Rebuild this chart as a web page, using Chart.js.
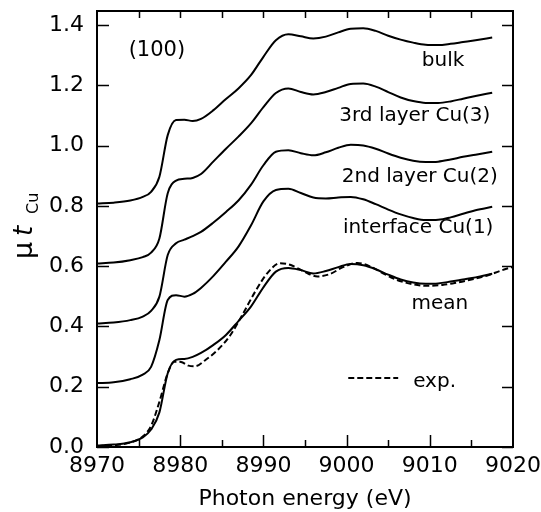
<!DOCTYPE html>
<html>
<head>
<meta charset="utf-8">
<title>Cu K-edge XANES (100)</title>
<script src="https://cdn.jsdelivr.net/npm/chart.js@4.4.1/dist/chart.umd.min.js"></script>
<style>
  html, body { margin: 0; padding: 0; background: #fff; }
  #wrap { width: 541px; height: 512px; }
</style>
</head>
<body>
<div id="wrap"><canvas id="xanesChart" width="541" height="512"></canvas></div>
<script>
// Cu K-edge spectra, (100) surface: calc. layers, mean and experiment

const energy = [8970, 8972, 8974, 8975.5, 8976.5, 8977.5, 8978.5, 8979.5, 8980.5, 8981.5,
  8982.5, 8984, 8985.5, 8987, 8988.5, 8990, 8991.5, 8993, 8994.5, 8996,
  8997.5, 8999, 9000.5, 9002, 9003.5, 9005, 9006.5, 9008, 9009.5, 9011,
  9012.5, 9014, 9015.5, 9017.5];

const bulk = [0.808, 0.811, 0.818, 0.830, 0.847, 0.897, 1.035, 1.085, 1.086, 1.082,
  1.089, 1.118, 1.155, 1.190, 1.234, 1.295, 1.350, 1.370, 1.363, 1.356,
  1.362, 1.376, 1.388, 1.390, 1.381, 1.365, 1.352, 1.342, 1.335, 1.334,
  1.338, 1.344, 1.350, 1.359];

const layer3 = [0.609, 0.612, 0.620, 0.630, 0.645, 0.692, 0.842, 0.884, 0.890, 0.893,
  0.906, 0.948, 0.990, 1.030, 1.074, 1.128, 1.175, 1.190, 1.178, 1.170,
  1.178, 1.192, 1.205, 1.206, 1.196, 1.178, 1.160, 1.148, 1.142, 1.142,
  1.147, 1.156, 1.165, 1.176];

const layer2 = [0.410, 0.413, 0.421, 0.433, 0.452, 0.499, 0.637, 0.676, 0.688, 0.700,
  0.714, 0.745, 0.780, 0.818, 0.870, 0.935, 0.980, 0.985, 0.975, 0.968,
  0.978, 0.993, 1.003, 1.001, 0.990, 0.974, 0.960, 0.950, 0.946, 0.947,
  0.954, 0.963, 0.970, 0.980];

const layer1 = [0.212, 0.215, 0.225, 0.240, 0.266, 0.355, 0.488, 0.504, 0.499, 0.508,
  0.528, 0.568, 0.615, 0.665, 0.735, 0.815, 0.853, 0.857, 0.843, 0.828,
  0.825, 0.828, 0.830, 0.822, 0.806, 0.788, 0.772, 0.760, 0.753, 0.754,
  0.762, 0.774, 0.786, 0.797];

const mean = [0.005, 0.008, 0.016, 0.032, 0.058, 0.115, 0.245, 0.289, 0.292, 0.299,
  0.312, 0.339, 0.372, 0.418, 0.466, 0.530, 0.582, 0.594, 0.587, 0.576,
  0.584, 0.597, 0.607, 0.603, 0.590, 0.572, 0.556, 0.546, 0.542, 0.543,
  0.549, 0.556, 0.563, 0.575];

const expEnergy = [8970, 8972, 8974, 8975.5, 8976.5, 8977.5, 8978.5, 8979.3, 8980.1, 8981,
  8981.8, 8983, 8984.5, 8986, 8987.5, 8989, 8990.5, 8992, 8993.3, 8994.9,
  8996.5, 8998, 8999.5, 9001.3, 9003, 9004.5, 9006, 9008, 9009.7, 9011.5,
  9013, 9015, 9017, 9018.5, 9020];

const expMu = [0.003, 0.006, 0.015, 0.035, 0.070, 0.150, 0.245, 0.283, 0.282, 0.270,
  0.268, 0.288, 0.322, 0.370, 0.440, 0.515, 0.578, 0.610, 0.604, 0.582,
  0.566, 0.574, 0.596, 0.611, 0.597, 0.575, 0.555, 0.540, 0.535, 0.538,
  0.544, 0.556, 0.570, 0.585, 0.598];

const yTicks = [0, 0.2, 0.4, 0.6, 0.8, 1.0, 1.2, 1.4];

const curveLabels = [
  { text: '(100)', x: 8977.2, y: 1.298, align: 'center', size: 21 },
  { text: 'bulk', x: 9011.6, y: 1.264, align: 'center', size: 20 },
  { text: '3rd layer Cu(3)', x: 9008.2, y: 1.083, align: 'center', size: 20 },
  { text: '2nd layer Cu(2)', x: 9008.8, y: 0.880, align: 'center', size: 20 },
  { text: 'interface Cu(1)', x: 9008.6, y: 0.709, align: 'center', size: 20 },
  { text: 'mean', x: 9011.2, y: 0.457, align: 'center', size: 20 },
  { text: 'exp.', x: 9008.0, y: 0.198, align: 'left', size: 20 }
];

const FONT = '"DejaVu Sans", Verdana, sans-serif';

function toPoints(xs, ys) {
  return xs.map((e, i) => ({ x: e, y: ys[i] }));
}

function lineSet(label, xs, ys, dashed) {
  return {
    label: label,
    data: toPoints(xs, ys),
    borderColor: '#000',
    borderWidth: 2,
    borderDash: dashed ? [6, 3] : [],
    pointRadius: 0,
    fill: false,
    cubicInterpolationMode: 'monotone'
  };
}

// frame with inward ticks on all four sides
const frameTicks = {
  id: 'frameTicks',
  afterDatasetsDraw(chart) {
    const ctx = chart.ctx;
    const a = chart.chartArea;
    const x = chart.scales.x;
    const y = chart.scales.y;
    ctx.save();
    ctx.strokeStyle = '#000';
    ctx.lineWidth = 1.5;
    ctx.beginPath();
    for (let e = 8975; e < 9020; e += 5) {
      const px = Math.round(x.getPixelForValue(e)) + 0.5;
      const major = e % 10 === 0;
      ctx.moveTo(px, a.bottom);
      ctx.lineTo(px, a.bottom - (major ? 12 : 7));
      ctx.moveTo(px, a.top);
      ctx.lineTo(px, a.top + 7);
    }
    yTicks.forEach(v => {
      const py = Math.round(y.getPixelForValue(v)) + 0.5;
      ctx.moveTo(a.left, py);
      ctx.lineTo(a.left + 12, py);
      ctx.moveTo(a.right, py);
      ctx.lineTo(a.right - 11, py);
    });
    ctx.stroke();
    ctx.lineWidth = 2;
    ctx.strokeRect(a.left, a.top, a.right - a.left, a.bottom - a.top);
    ctx.restore();
  }
};

// curve names, "(100)" and the dashed key for exp.
const curveText = {
  id: 'curveText',
  afterDatasetsDraw(chart) {
    const ctx = chart.ctx;
    const x = chart.scales.x;
    const y = chart.scales.y;
    ctx.save();
    ctx.fillStyle = '#000';
    ctx.textBaseline = 'alphabetic';
    curveLabels.forEach(l => {
      ctx.font = l.size + 'px ' + FONT;
      ctx.textAlign = l.align;
      ctx.fillText(l.text, x.getPixelForValue(l.x), y.getPixelForValue(l.y));
    });
    ctx.strokeStyle = '#000';
    ctx.lineWidth = 2;
    ctx.setLineDash([6, 3]);
    ctx.beginPath();
    ctx.moveTo(x.getPixelForValue(9000.2), y.getPixelForValue(0.229));
    ctx.lineTo(x.getPixelForValue(9006.2), y.getPixelForValue(0.229));
    ctx.stroke();
    ctx.restore();
  }
};

// rotated y title: mu t_Cu
const yTitle = {
  id: 'yTitle',
  afterDraw(chart) {
    const ctx = chart.ctx;
    ctx.save();
    ctx.fillStyle = '#000';
    ctx.translate(32, 0);
    ctx.rotate(-Math.PI / 2);
    ctx.textBaseline = 'alphabetic';
    ctx.textAlign = 'left';
    ctx.font = '27px ' + FONT;
    ctx.fillText('\u03bc', -259, 0);
    ctx.font = 'italic 26px ' + FONT;
    ctx.fillText('t', -236, 0);
    ctx.font = '16px ' + FONT;
    ctx.fillText('Cu', -214, 6);
    ctx.restore();
  }
};

const datasets = [
  lineSet('bulk', energy, bulk, false),
  lineSet('3rd layer Cu(3)', energy, layer3, false),
  lineSet('2nd layer Cu(2)', energy, layer2, false),
  lineSet('interface Cu(1)', energy, layer1, false),
  lineSet('mean', energy, mean, false),
  lineSet('exp.', expEnergy, expMu, true)
];

const xanesChart = new Chart(document.getElementById('xanesChart').getContext('2d'), {
  type: 'line',
  data: { datasets: datasets },
  options: {
    responsive: false,
    animation: false,
    devicePixelRatio: 1,
    layout: { padding: { top: 11, right: 28, left: 0, bottom: 0 } },
    plugins: {
      legend: { display: false },
      tooltip: { enabled: false }
    },
    scales: {
      x: {
        type: 'linear',
        min: 8970,
        max: 9020,
        grid: { display: false, drawTicks: false },
        border: { display: false },
        ticks: {
          stepSize: 10,
          padding: 6,
          color: '#000',
          font: { family: FONT, size: 22 },
          maxRotation: 0,
          callback: v => String(v)
        },
        title: {
          display: true,
          text: 'Photon energy (eV)',
          color: '#000',
          font: { family: FONT, size: 22 },
          padding: { top: 0, bottom: 0 }
        },
        afterFit: s => {
          s.height = 65;
          s.paddingLeft = 0;
          s.paddingRight = 0;
        }
      },
      y: {
        min: 0,
        max: 1.447,
        grid: { display: false, drawTicks: false },
        border: { display: false },
        ticks: {
          stepSize: 0.2,
          includeBounds: false,
          padding: 13,
          color: '#000',
          font: { family: FONT, size: 22 },
          callback: v => v.toFixed(1)
        },
        afterFit: s => {
          s.width = 97;
          s.paddingTop = 0;
          s.paddingBottom = 0;
        }
      }
    }
  },
  plugins: [frameTicks, curveText, yTitle]
});
</script>
</body>
</html>
